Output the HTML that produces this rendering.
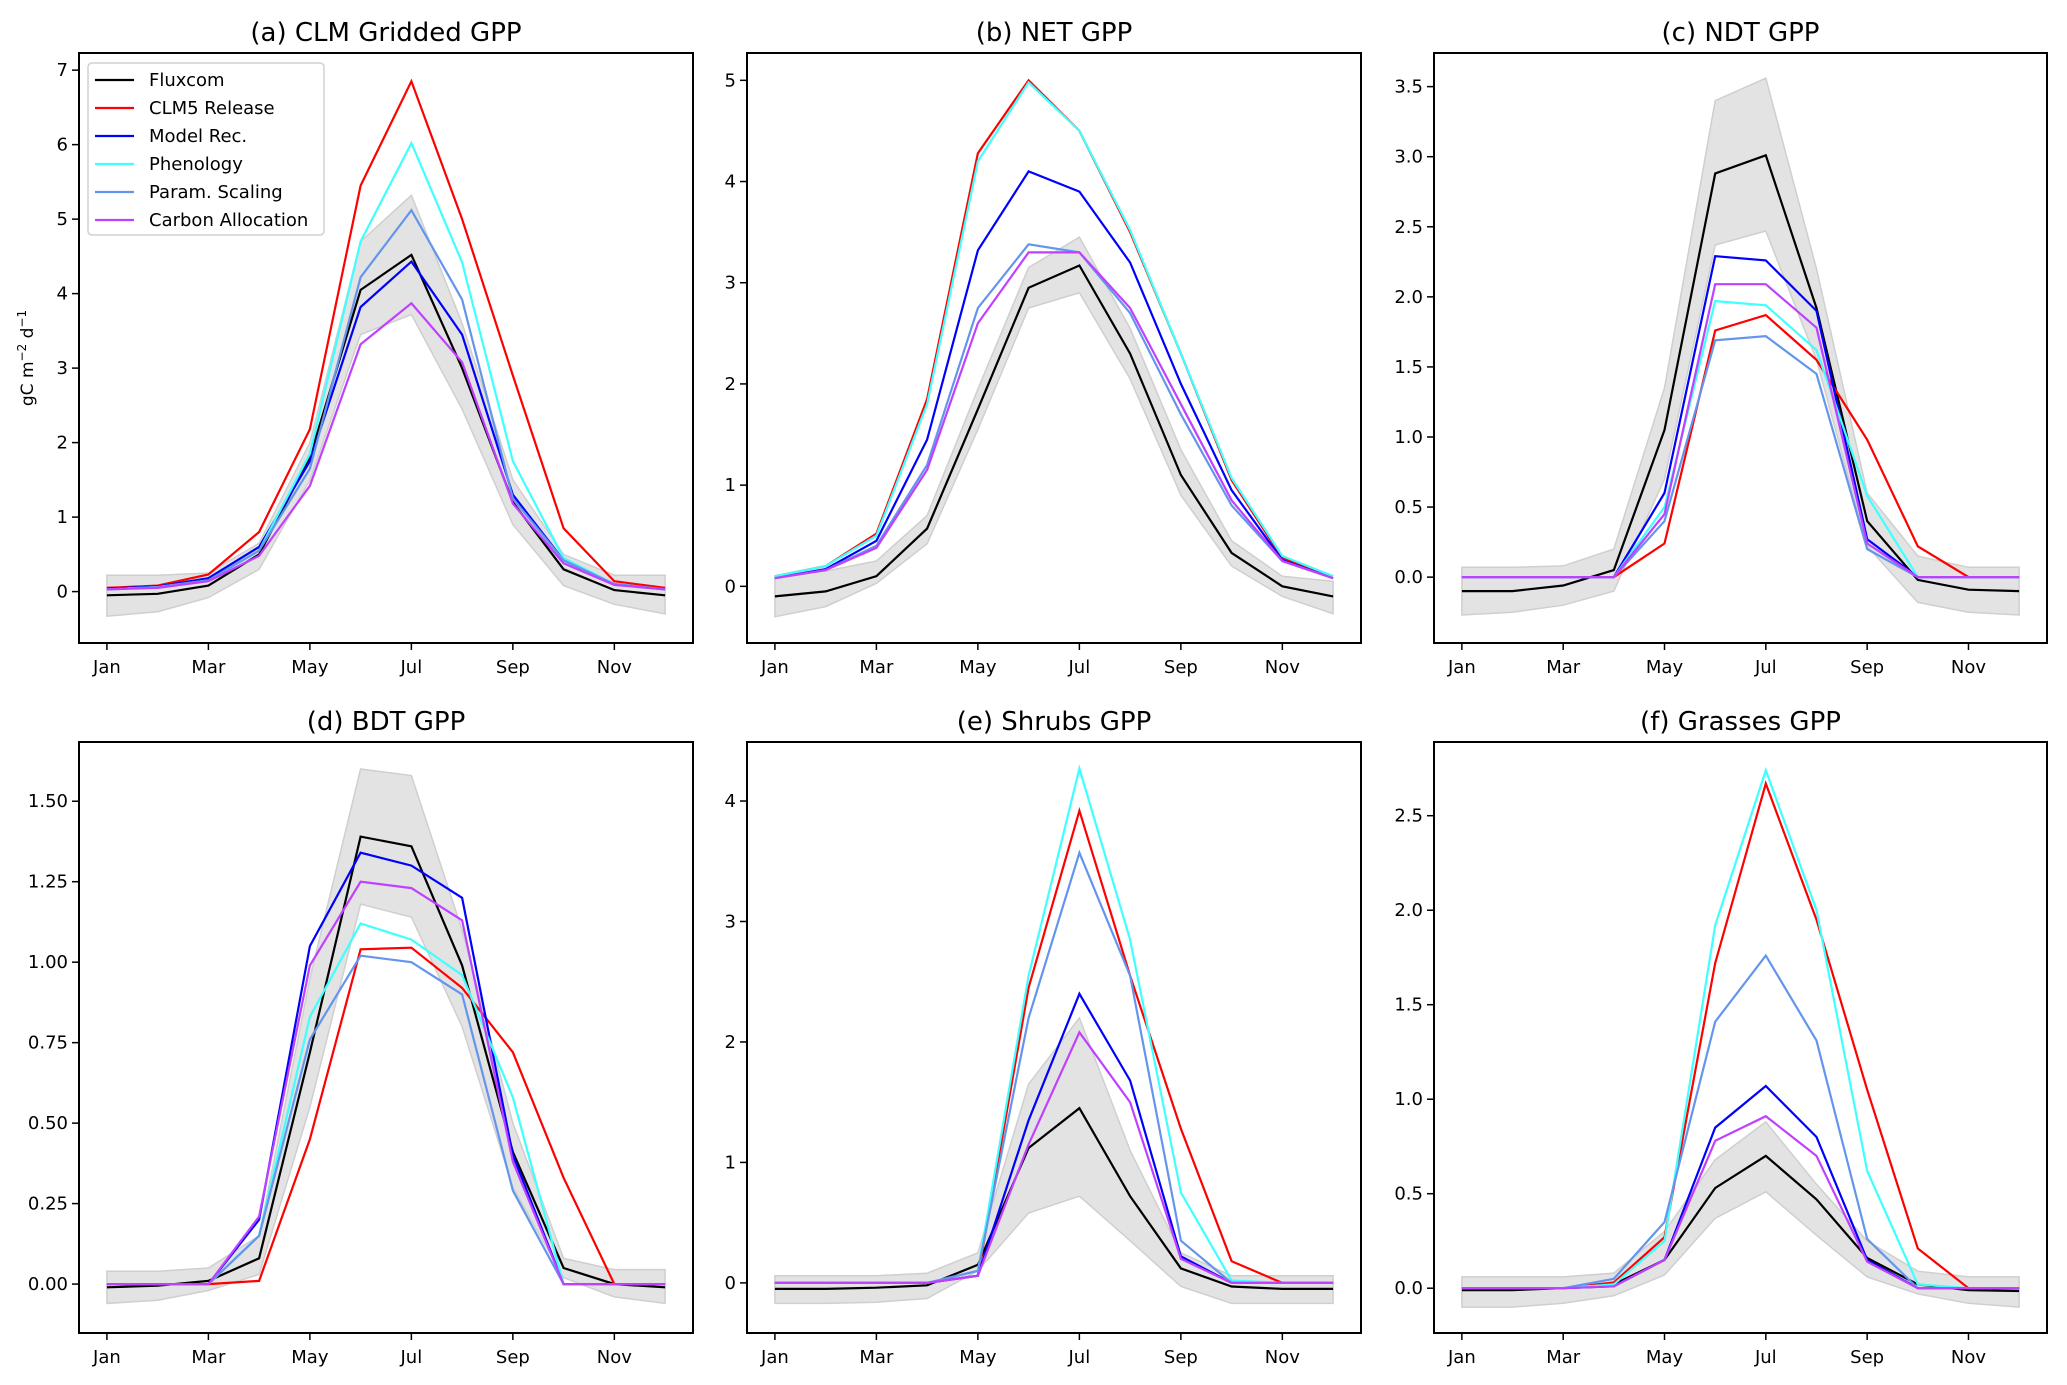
<!DOCTYPE html>
<html><head><meta charset="utf-8"><style>
html,body{margin:0;padding:0;background:#fff;}
svg{display:block;font-family:"DejaVu Sans","Liberation Sans",sans-serif;}
</style></head><body>
<svg id="chart" width="2067" height="1385" viewBox="0 0 2067 1385" xmlns="http://www.w3.org/2000/svg"></svg>
<script>
const months = ["Jan","Feb","Mar","Apr","May","Jun","Jul","Aug","Sep","Oct","Nov","Dec"];
const tickMonths = ["Jan","Mar","May","Jul","Sep","Nov"];
const seriesNames = ["Fluxcom","CLM5 Release","Model Rec.","Phenology","Param. Scaling","Carbon Allocation"];
const seriesColors = ["#000000","#ff0000","#0000ff","#40ffff","#6495ed","#c040ff"];
const panelTitles = ["(a) CLM Gridded GPP","(b) NET GPP","(c) NDT GPP","(d) BDT GPP","(e) Shrubs GPP","(f) Grasses GPP"];
const yTicksA = ["0","1","2","3","4","5","6","7"];
const yTicksB = ["0","1","2","3","4","5"];
const yTicksC = ["0.0","0.5","1.0","1.5","2.0","2.5","3.0","3.5"];
const yTicksD = ["0.00","0.25","0.50","0.75","1.00","1.25","1.50"];
const yTicksE = ["0","1","2","3","4"];
const yTicksF = ["0.0","0.5","1.0","1.5","2.0","2.5"];
const yLimits = [[-0.69,7.23],[-0.56,5.27],[-0.47,3.74],[-0.152,1.684],[-0.416,4.49],[-0.237,2.89]];

const aFlux=[-0.05,-0.03,0.08,0.5,1.8,4.05,4.52,3.0,1.2,0.3,0.02,-0.05];
const aCLM=[0.05,0.08,0.23,0.8,2.18,5.45,6.85,5.0,2.9,0.85,0.14,0.05];
const aRec=[0.04,0.07,0.18,0.6,1.75,3.82,4.43,3.45,1.3,0.42,0.1,0.03];
const aPhen=[0.03,0.06,0.15,0.55,1.85,4.7,6.02,4.42,1.75,0.45,0.1,0.03];
const aParam=[0.03,0.06,0.15,0.55,1.65,4.22,5.12,3.92,1.25,0.42,0.1,0.03];
const aCarb=[0.03,0.05,0.14,0.48,1.42,3.32,3.87,3.08,1.18,0.38,0.09,0.03];
const aUp=[0.22,0.22,0.25,0.65,2.0,4.7,5.32,3.6,1.5,0.5,0.22,0.22];
const aLo=[-0.33,-0.27,-0.08,0.3,1.5,3.45,3.72,2.45,0.9,0.08,-0.17,-0.3];

const bFlux=[-0.1,-0.05,0.1,0.57,1.75,2.95,3.17,2.3,1.1,0.33,0,-0.1];
const bCLM=[0.1,0.2,0.52,1.85,4.28,5.0,4.5,3.5,2.3,1.05,0.28,0.1];
const bRec=[0.08,0.17,0.45,1.45,3.32,4.1,3.9,3.2,2.0,0.95,0.26,0.08];
const bPhen=[0.1,0.2,0.5,1.8,4.2,4.98,4.5,3.52,2.3,1.07,0.3,0.1];
const bParam=[0.08,0.16,0.4,1.2,2.75,3.38,3.3,2.7,1.7,0.8,0.25,0.08];
const bCarb=[0.08,0.16,0.38,1.15,2.6,3.3,3.3,2.75,1.8,0.85,0.25,0.08];
const bUp=[0.1,0.15,0.25,0.7,1.95,3.15,3.45,2.55,1.35,0.45,0.1,0.05];
const bLo=[-0.3,-0.2,0.03,0.42,1.55,2.75,2.9,2.05,0.9,0.2,-0.1,-0.27];

const cFlux=[-0.1,-0.1,-0.06,0.05,1.05,2.88,3.01,1.92,0.4,-0.02,-0.09,-0.1];
const cCLM=[0,0,0,0,0.24,1.76,1.87,1.55,0.98,0.22,0,0];
const cRec=[0,0,0,0,0.6,2.29,2.26,1.9,0.27,0,0,0];
const cPhen=[0,0,0,0,0.5,1.97,1.94,1.62,0.58,0,0,0];
const cParam=[0,0,0,0,0.4,1.69,1.72,1.45,0.2,0,0,0];
const cCarb=[0,0,0,0,0.45,2.09,2.09,1.78,0.24,0,0,0];
const cUp=[0.07,0.07,0.08,0.2,1.35,3.4,3.56,2.2,0.6,0.15,0.07,0.07];
const cLo=[-0.27,-0.25,-0.2,-0.1,0.7,2.37,2.47,1.55,0.22,-0.18,-0.25,-0.27];

const dFlux=[-0.01,-0.005,0.01,0.08,0.72,1.39,1.36,0.99,0.41,0.05,0,-0.01];
const dCLM=[0,0,0,0.01,0.45,1.04,1.045,0.92,0.72,0.33,0,0];
const dRec=[0,0,0,0.2,1.05,1.34,1.3,1.2,0.4,0,0,0];
const dPhen=[0,0,0,0.15,0.83,1.12,1.07,0.96,0.58,0,0,0];
const dParam=[0,0,0,0.15,0.76,1.02,1.0,0.9,0.29,0,0,0];
const dCarb=[0,0,0,0.21,0.99,1.25,1.23,1.13,0.38,0,0,0];
const dUp=[0.04,0.04,0.05,0.15,0.95,1.6,1.58,1.1,0.5,0.08,0.045,0.045];
const dLo=[-0.06,-0.05,-0.02,0.03,0.55,1.18,1.14,0.8,0.3,0.02,-0.04,-0.06];

const eFlux=[-0.05,-0.05,-0.04,-0.02,0.15,1.12,1.45,0.72,0.12,-0.03,-0.05,-0.05];
const eCLM=[0,0,0,0,0.06,2.45,3.92,2.55,1.28,0.18,0,0];
const eRec=[0,0,0,0,0.06,1.35,2.4,1.68,0.22,0,0,0];
const ePhen=[0,0,0,0,0.1,2.55,4.27,2.85,0.75,0.02,0,0];
const eParam=[0,0,0,0,0.1,2.2,3.57,2.55,0.35,0,0,0];
const eCarb=[0,0,0,0,0.06,1.15,2.08,1.5,0.2,0,0,0];
const eUp=[0.06,0.06,0.06,0.08,0.25,1.65,2.2,1.1,0.25,0.06,0.06,0.06];
const eLo=[-0.17,-0.17,-0.16,-0.13,0.1,0.58,0.72,0.35,-0.03,-0.17,-0.17,-0.17];

const fFlux=[-0.01,-0.01,0,0.02,0.15,0.53,0.7,0.47,0.16,0.02,-0.01,-0.015];
const fCLM=[0,0,0,0.03,0.27,1.72,2.67,1.95,1.05,0.21,0,0];
const fRec=[0,0,0,0.01,0.15,0.85,1.07,0.8,0.15,0,0,0];
const fPhen=[0,0,0,0.02,0.25,1.92,2.74,2.0,0.62,0.02,0,0];
const fParam=[0,0,0,0.05,0.35,1.41,1.76,1.31,0.26,0,0,0];
const fCarb=[0,0,0,0.01,0.15,0.78,0.91,0.7,0.14,0,0,0];
const fUp=[0.06,0.06,0.06,0.08,0.3,0.68,0.88,0.55,0.25,0.09,0.06,0.06];
const fLo=[-0.1,-0.1,-0.08,-0.04,0.07,0.37,0.51,0.28,0.06,-0.03,-0.08,-0.1];

const panelSeries=[[aFlux,aCLM,aRec,aPhen,aParam,aCarb],[bFlux,bCLM,bRec,bPhen,bParam,bCarb],[cFlux,cCLM,cRec,cPhen,cParam,cCarb],[dFlux,dCLM,dRec,dPhen,dParam,dCarb],[eFlux,eCLM,eRec,ePhen,eParam,eCarb],[fFlux,fCLM,fRec,fPhen,fParam,fCarb]];
const panelUp=[aUp,bUp,cUp,dUp,eUp,fUp];
const panelLo=[aLo,bLo,cLo,dLo,eLo,fLo];
const panelTicks=[yTicksA,yTicksB,yTicksC,yTicksD,yTicksE,yTicksF];

const NS="http://www.w3.org/2000/svg";
const svg=document.getElementById('chart');
function mk(tag,attrs,parent){const e=document.createElementNS(NS,tag);for(const k in attrs)e.setAttribute(k,attrs[k]);(parent||svg).appendChild(e);return e;}

const colL=[79,747,1434], colR=[693,1361,2047];
const rowT=[53,742], rowB=[643,1333];

for(let p=0;p<6;p++){
  const L=colL[p%3],R=colR[p%3],T=rowT[Math.floor(p/3)],B=rowB[Math.floor(p/3)];
  const [y0,y1]=yLimits[p];
  const xs=i=>L+(i+0.55)/12.1*(R-L);
  const ys=v=>B-(v-y0)/(y1-y0)*(B-T);
  const g=mk('g',{});
  
  
  const title=mk('text',{x:(L+R)/2,y:T-12,'text-anchor':'middle','font-size':26,fill:'#000'},g);
  title.textContent=panelTitles[p];
  
  
  // band
  let d='';
  panelUp[p].forEach((v,i)=>{d+=(i?'L':'M')+xs(i).toFixed(1)+','+ys(v).toFixed(1);});
  for(let i=11;i>=0;i--) d+='L'+xs(i).toFixed(1)+','+ys(panelLo[p][i]).toFixed(1);
  const band=mk('path',{d:d+'Z',fill:'#e3e3e3',stroke:'#cfcfcf','stroke-width':1.5},g);
  
  
  // series (draw Fluxcom last-ish order as in figure)
  panelSeries[p].forEach((arr,si)=>{
    const pts=arr.map((v,i)=>xs(i).toFixed(1)+','+ys(v).toFixed(1)).join(' ');
    const pl=mk('polyline',{points:pts,fill:'none',stroke:seriesColors[si],'stroke-width':2.2,'stroke-linejoin':'miter'},g);
    
    
  });
  // frame
  const fr=mk('rect',{x:L,y:T,width:R-L,height:B-T,fill:'none',stroke:'#000','stroke-width':2},g);
  
  
  // x ticks
  tickMonths.forEach(m=>{
    const i=months.indexOf(m);const x=xs(i);
    mk('line',{x1:x,y1:B,x2:x,y2:B+7,stroke:'#000','stroke-width':1.5},g);
    const t=mk('text',{x:x,y:B+30,'text-anchor':'middle','font-size':18,fill:'#000'},g);
    t.textContent=m;
    
    
  });
  // y ticks
  panelTicks[p].forEach(lbl=>{
    const v=parseFloat(lbl);const y=ys(v);
    mk('line',{x1:L-7,y1:y,x2:L,y2:y,stroke:'#000','stroke-width':1.5},g);
    const t=mk('text',{x:L-11,y:y+6,'text-anchor':'end','font-size':18,fill:'#000'},g);
    t.textContent=lbl;
    
    
  });
}
// y axis title
const yt=mk('text',{x:0,y:0,transform:'translate(33,358) rotate(-90)','text-anchor':'middle','font-size':17,fill:'#000'});
yt.innerHTML='gC m<tspan dy="-7" font-size="12">−2</tspan><tspan dy="7"> d</tspan><tspan dy="-7" font-size="12">−1</tspan>';


// legend
const lg=mk('g',{});


mk('rect',{x:88,y:63,width:236,height:172,rx:4,fill:'#fff','fill-opacity':0.85,stroke:'#d0d0d0','stroke-width':1.5},lg);
seriesNames.forEach((n,i)=>{
  const y=80+i*28;
  const e=mk('g',{},lg);
  
  
  mk('line',{x1:95,y1:y,x2:134,y2:y,stroke:seriesColors[i],'stroke-width':2.2},e);
  const t=mk('text',{x:149,y:y+6,'font-size':18,fill:'#000'},e);
  t.textContent=n;
});
</script>
</body></html>
